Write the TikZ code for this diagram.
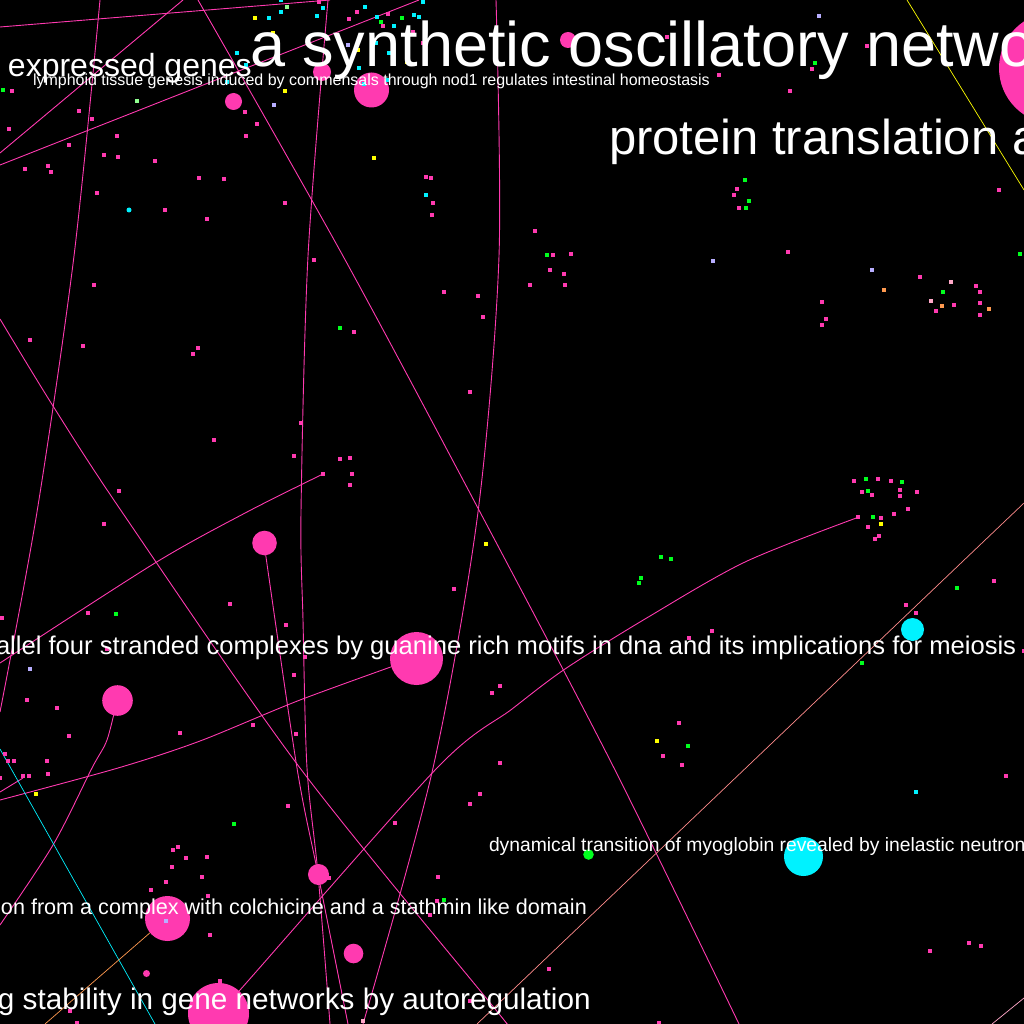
\documentclass[tikz,border=0pt]{standalone}
\usepackage{fontspec}
\setmainfont{Liberation Sans}
\definecolor{pinkc}{HTML}{FF3AB0}
\definecolor{cyanc}{HTML}{00F2FF}
\definecolor{greenc}{HTML}{00FF1E}
\definecolor{yellowc}{HTML}{FFFF00}
\definecolor{lavc}{HTML}{B8AEFF}
\definecolor{orangec}{HTML}{FF9A50}
\definecolor{lpinkc}{HTML}{FFA8C8}
\definecolor{lgreenc}{HTML}{90FF90}
\definecolor{salmonc}{HTML}{FF8C8C}
\tikzset{
  edge/.style={draw=pinkc, line width=0.9pt},
  thinedge/.style={line width=0.7pt},
  lbl/.style={text=white, anchor=base west, inner sep=0pt, outer sep=0pt},
}
\begin{document}
\begin{tikzpicture}[x=1pt,y=-1pt]
\fill[black] (0,0) rectangle (1024,1024);
\useasboundingbox (0,0) rectangle (1024,1024);
\clip (0,0) rectangle (1024,1024);
% connectors
\draw[edge] plot[smooth] coordinates {(100,0) (74,256) (37,512) (0,712)};
\draw[edge] (0,27) -- (330,0);
\draw[edge] (0,153) -- (183,0);
\draw[edge] (0,165) -- (419,0);
\draw[edge] plot[smooth] coordinates {(198,0) (343,256) (480,512) (614,768) (739,1024)};
\draw[edge] plot[smooth] coordinates {(328,0) (308,256) (301,512) (303,620) (307,768) (318,874) (330,1024)};
\draw[edge] plot[smooth] coordinates {(264,543) (297,768) (318,874) (348,1024)};
\draw[edge] plot[smooth] coordinates {(0,319) (53,406) (122,512) (300,768) (500,1015) (506,1024)};
\draw[edge] plot[smooth] coordinates {(496,0) (499,256) (478,512) (433,768) (363,1024)};
\draw[edge] plot[smooth] coordinates {(0,663) (155,563) (247,512) (323,474)};
\draw[edge] plot[smooth] coordinates {(416,658) (300,700) (200,741) (118,768) (0,800)};
\draw[edge] plot[smooth] coordinates {(117,700) (107,740) (92,768) (53,845) (0,925)};
\draw[edge] plot[smooth] coordinates {(859,517) (745,562) (645,619) (565,669) (512,709) (437,768) (240,990) (218,1013)};
\draw[edge] (0,792) -- (23,778);
\draw[thinedge, cyanc] (0,749) -- (155,1024);
\draw[thinedge, orangec] (167,918) -- (45,1024);
\draw[thinedge, salmonc] (1024,503) -- (477,1024);
\draw[thinedge, lpinkc] (1024,998) -- (992,1024);
\draw[thinedge, yellowc] (907,0) -- (1024,190);
% big circles
\fill[pinkc] (1055,68) circle (56);
\fill[pinkc] (371.5,90) circle (17.5);
\fill[pinkc] (233.5,101.5) circle (8.5);
\fill[pinkc] (322,72) circle (9);
\fill[pinkc] (568,40) circle (8);
\fill[pinkc] (264.5,543) circle (12.3);
\fill[pinkc] (416.5,658.5) circle (26.5);
\fill[pinkc] (117.5,700.5) circle (15.3);
\fill[cyanc] (912.5,629.5) circle (11.5);
\fill[cyanc] (803.5,856.5) circle (19.5);
\fill[greenc] (588.5,854.5) circle (5.3);
\fill[pinkc] (167.5,918.5) circle (22.5);
\fill[pinkc] (318.5,874.5) circle (10.5);
\fill[pinkc] (353.5,953.5) circle (9.8);
\fill[pinkc] (218.5,1013.5) circle (30.5);
\fill[pinkc] (146.5,973.5) circle (3.5);
\fill[cyanc] (129,210) circle (2.5);
% small squares
\foreach \x/\y in {319/2, 349/19, 357/12, 388/14, 383/26, 413/32, 423/43, 12/91, 245/112, 257/124, 246/136, 79/111, 92/119, 9/129, 117/136, 69/145, 104/155, 118/157, 155/161, 25/169, 48/166, 51/172, 199/178, 224/179, 426/177, 431/178, 433/203, 432/215, 97/193, 165/210, 207/219, 285/203,
667/37, 867/46, 812/69, 719/75, 790/91, 737/189, 734/195, 739/208, 999/190, 535/231, 553/255, 571/254, 788/252,
314/260, 94/285, 30/340, 83/346, 198/348, 193/354, 354/332, 444/292, 478/296, 483/317, 470/392, 301/423, 214/440, 294/456, 340/459, 350/458, 323/474, 352/474, 350/485, 119/491,
550/270, 564/274, 530/285, 565/285, 920/277, 976/286, 980/292, 936/311, 954/305, 980/303, 980/315, 822/302, 826/319, 822/325, 854/481, 878/479, 891/481, 862/492, 872/495, 900/490, 900/496, 917/492, 908/509,
858/517, 881/518, 894/514, 868/527, 879/536, 875/539, 994/581, 906/605, 916/613, 712/631, 689/638, 679/723, 663/756, 682/765, 1024/651,
104/524, 230/604, 88/613, 2/618, 286/625, 454/589, 305/657, 294/675, 500/686, 492/693, 27/700, 57/708, 69/736, 180/733, 253/725, 296/734, 5/754, 8/761, 14/761, 47/761, 500/763, 107/649,
0/778, 23/776, 29/776, 48/774, 288/806, 470/804, 480/794, 395/823, 173/850, 178/847, 186/858, 207/857, 172/867, 202/877, 166/882, 151/890, 208/896, 438/877, 430/915, 437/901, 210/935, 220/981, 70/1011, 77/1023, 470/1001, 329/878,
1006/776, 549/969, 930/951, 969/943, 981/946, 659/1023}
  \fill[pinkc] (\x,\y) ++(-2.4,-2.4) rectangle ++(4.8,4.8);
\foreach \x/\y in {281/0, 269/18, 281/12, 323/8, 317/16, 365/7, 377/17, 394/26, 414/15, 419/17, 423/2, 389/53, 359/68, 376/43, 237/53, 246/65, 227/82, 364/84, 388/80, 426/195, 916/792}
  \fill[cyanc] (\x,\y) ++(-2.4,-2.4) rectangle ++(4.8,4.8);
\foreach \x/\y in {381/22, 402/18, 3/90, 815/63, 745/180, 749/201, 746/208, 547/255, 1020/254, 943/292, 340/328, 866/479, 902/482, 868/491, 873/517, 661/557, 671/559, 641/578, 639/583, 957/588, 862/663, 688/746, 116/614, 234/824, 444/900}
  \fill[greenc] (\x,\y) ++(-2.4,-2.4) rectangle ++(4.8,4.8);
\foreach \x/\y in {255/18, 273/33, 358/50, 407/62, 285/91, 374/158, 881/524, 657/741, 486/544, 36/794}
  \fill[yellowc] (\x,\y) ++(-2.4,-2.4) rectangle ++(4.8,4.8);
\foreach \x/\y in {348/45, 274/105, 819/16, 713/261, 872/270, 30/669, 166/921}
  \fill[lavc] (\x,\y) ++(-2.4,-2.4) rectangle ++(4.8,4.8);
\foreach \x/\y in {287/7, 137/101}
  \fill[lgreenc] (\x,\y) ++(-2.4,-2.4) rectangle ++(4.8,4.8);
\foreach \x/\y in {884/290, 942/306, 989/309}
  \fill[orangec] (\x,\y) ++(-2.4,-2.4) rectangle ++(4.8,4.8);
\foreach \x/\y in {951/282, 931/301, 363/1021}
  \fill[lpinkc] (\x,\y) ++(-2.4,-2.4) rectangle ++(4.8,4.8);
% labels
\node[lbl, font=\fontsize{63}{63}\selectfont] (t1) at (250,67) {a synthetic oscillatory netwo};
\node[lbl, font=\fontsize{32}{32}\selectfont] (t2) at (8,77) {expressed genes};
\node[lbl, font=\fontsize{16}{16}\selectfont] (t3) at (33,86) {lymphoid tissue genesis induced by commensals through nod1 regulates intestinal homeostasis};
\node[lbl, font=\fontsize{49}{49}\selectfont] (t4) at (609,155) {protein translation a};
\node[lbl, font=\fontsize{25.6}{25.6}\selectfont] (t5) at (-4,654) {allel four stranded complexes by guanine rich motifs in dna and its implications for meiosis};
\node[lbl, font=\fontsize{19.3}{19.3}\selectfont] (t6) at (489,851) {dynamical transition of myoglobin revealed by inelastic neutron};
\node[lbl, font=\fontsize{21.6}{21.6}\selectfont] (t7) at (1,914) {on from a complex with colchicine and a stathmin like domain};
\node[lbl, font=\fontsize{29.7}{29.7}\selectfont] (t8) at (-2,1009) {g stability in gene networks by autoregulation};
\end{tikzpicture}
\end{document}
